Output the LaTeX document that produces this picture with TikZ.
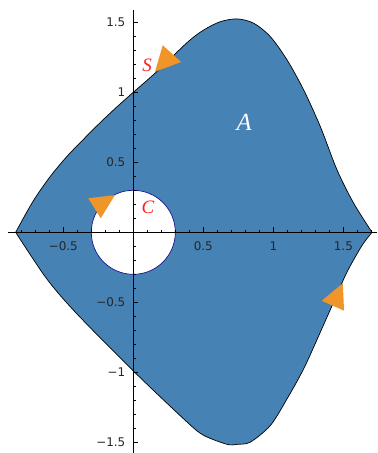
\documentclass[tikz,border=0pt]{standalone}
\usepackage{fontspec}
\newfontfamily\tickfont{DejaVu Sans}
\newfontfamily\labfont{Liberation Serif}
\definecolor{regionblue}{RGB}{70,130,180}
\definecolor{arroworange}{RGB}{240,150,40}
\definecolor{circnavy}{RGB}{20,20,140}
\definecolor{labred}{RGB}{255,30,30}
\tikzset{
  ticklab/.style={font=\tickfont\fontsize{8.5}{10}\selectfont, text=black!85, inner sep=0pt},
  curvelab/.style={font=\labfont\fontsize{13.5}{15}\selectfont\itshape, text=labred, inner sep=0pt},
  arrowtri/.style={fill=arroworange, draw=none},
  axisline/.style={line width=0.5pt, black},
  ticksty/.style={line width=0.4pt, black}
}
\begin{document}
\begin{tikzpicture}[x=3.5cm,y=3.5cm]
\useasboundingbox (-0.952,-1.576) rectangle (1.741,1.659);
% region A with outer boundary S
\fill[regionblue, draw=black, line width=0.5pt]
  plot[smooth, tension=0.5] coordinates {(-0.84,0) (-0.72,0.215) (-0.6,0.39) (-0.48,0.535) (-0.36,0.66) (-0.24,0.78) (-0.12,0.893) (0,1.0) (0.167,1.147) (0.39,1.36) (0.503,1.445) (0.621,1.504) (0.741,1.524) (0.86,1.493) (0.979,1.397) (1.098,1.231) (1.217,1.016) (1.336,0.754) (1.455,0.445) (1.574,0.207) (1.705,0)}
  -- plot[smooth, tension=0.5] coordinates {(1.705,0) (1.634,-0.093) (1.526,-0.284) (1.431,-0.498) (1.336,-0.712) (1.217,-0.974) (1.098,-1.189) (0.979,-1.379) (0.836,-1.498) (0.741,-1.514) (0.669,-1.514) (0.503,-1.45) (0.384,-1.355) (0,-0.99) (-0.404,-0.581) (-0.619,-0.331) (-0.84,0)}
  -- cycle;
% inner hole with boundary C
\filldraw[fill=white, draw=circnavy, line width=0.5pt] (0,0) circle (0.3);
% axes
\draw[axisline] (-0.895,0) -- (1.741,0);
\draw[axisline] (0,1.588) -- (0,-1.576);
\foreach \t in {-8,...,17} \draw[ticksty] (\t/10,0) -- ++(0,0.02);
\foreach \t in {-5,5,10,15} \draw[ticksty] (\t/10,0) -- ++(0,0.035);
\foreach \t in {-15,...,15} \draw[ticksty] (0,\t/10) -- ++(0.02,0);
\foreach \t in {-15,-10,-5,5,10,15} \draw[ticksty] (0,\t/10) -- ++(0.035,0);
% tick labels
\node[ticklab] (xm05) at (-0.5,-0.1) {−0.5};
\node[ticklab] (x05) at (0.5,-0.1) {0.5};
\node[ticklab] (x1) at (1,-0.1) {1};
\node[ticklab] (x15) at (1.5,-0.1) {1.5};
\node[ticklab, anchor=east] (y15) at (-0.055,1.5) {1.5};
\node[ticklab, anchor=east] (y1) at (-0.055,1) {1};
\node[ticklab, anchor=east] (y05) at (-0.055,0.5) {0.5};
\node[ticklab, anchor=east] (ym05) at (-0.055,-0.5) {−0.5};
\node[ticklab, anchor=east] (ym1) at (-0.055,-1) {−1};
\node[ticklab, anchor=east] (ym15) at (-0.055,-1.5) {−1.5};
% curve labels
\node[curvelab] (S) at (0.099,1.195) {S};
\node[curvelab] (C) at (0.105,0.18) {C};
\node[curvelab, text=white, font=\labfont\fontsize{17.5}{19}\selectfont\itshape] (A) at (0.791,0.788) {A};
% orientation arrowheads
\fill[arrowtri] (0.155,1.147) -- (0.21,1.336) -- (0.341,1.216) -- cycle;
\fill[arrowtri] (-0.321,0.243) -- (-0.131,0.266) -- (-0.233,0.1) -- cycle;
\fill[arrowtri] (1.346,-0.489) -- (1.496,-0.364) -- (1.505,-0.56) -- cycle;
\end{tikzpicture}
\end{document}
